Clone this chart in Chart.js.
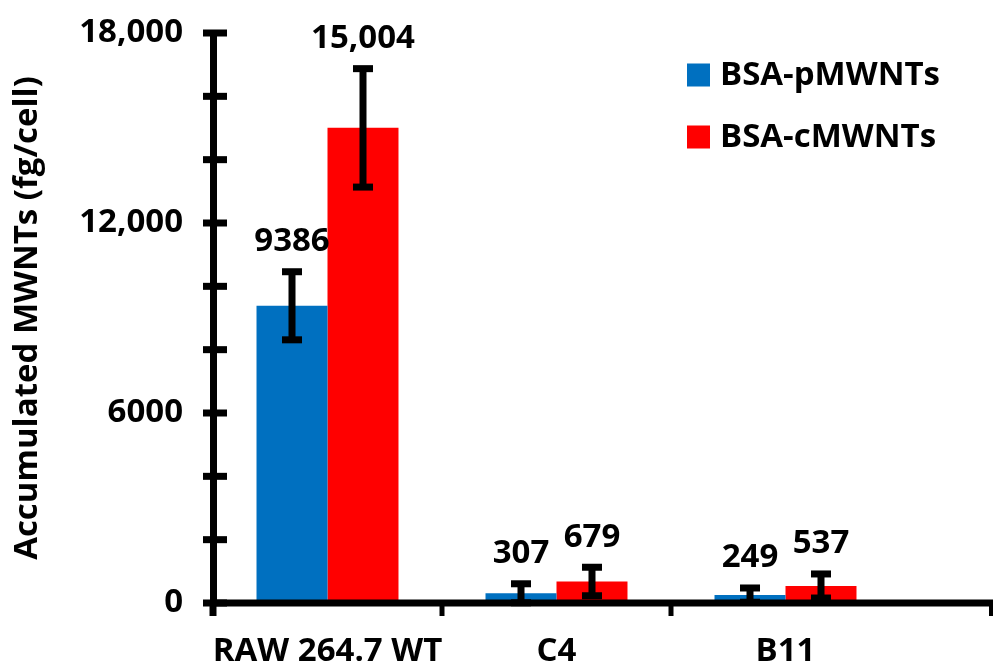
<!DOCTYPE html>
<html>
<head>
<meta charset="utf-8">
<script src="https://cdn.jsdelivr.net/npm/chart.js@4.4.0/dist/chart.umd.min.js"></script>
<style>
  html, body { margin: 0; padding: 0; background: #fff; }
  #wrap { width: 993px; height: 670px; position: relative; }
</style>
</head>
<body>
<div id="wrap"><canvas id="uptakeChart"></canvas></div>
<script>
// ---- Data ----
const categories = ['RAW 264.7 WT', 'C4', 'B11'];
const seriesNames = ['BSA-pMWNTs', 'BSA-cMWNTs'];
const pValues = [9386, 307, 249];
const cValues = [15004, 679, 537];
const pErrors = [1075, 300, 225];
const cErrors = [1870, 450, 380];
const pLabels = ['9386', '307', '249'];
const cLabels = ['15,004', '679', '537'];
const yTickLabels = { 0: '0', 6000: '6000', 12000: '12,000', 18000: '18,000' };

const BLUE = '#0070C0';
const RED = '#FF0000';
const FONT = '"Open Sans"';

// error bars + value labels
const errorBars = {
  id: 'errorBars',
  afterDatasetsDraw(chart) {
    const { ctx } = chart;
    const y = chart.scales.y;
    chart.data.datasets.forEach((ds, i) => {
      chart.getDatasetMeta(i).data.forEach((bar, j) => {
        const v = ds.data[j], e = ds.errors[j];
        const top = y.getPixelForValue(v + e);
        const bot = y.getPixelForValue(Math.max(v - e, 0));
        ctx.save();
        ctx.fillStyle = '#000';
        ctx.fillRect(bar.x - 3.5, top, 7, bot - top);
        ctx.fillRect(bar.x - 10, top - 3.5, 20, 7);
        ctx.fillRect(bar.x - 10, bot - 3.5, 20, 7);
        ctx.font = `bold 33px ${FONT}`;
        ctx.textAlign = 'center';
        ctx.textBaseline = 'middle';
        ctx.fillText(ds.valueLabels[j], bar.x, top - 30);
        ctx.restore();
      });
    });
  }
};

// crossing y ticks, x tick marks, x axis extension, legend
const axisExtras = {
  id: 'axisExtras',
  afterDraw(chart) {
    const { ctx, chartArea } = chart;
    const { x, y } = chart.scales;
    ctx.save();
    ctx.fillStyle = '#000';
    y.ticks.forEach((t, i) => {
      const py = y.getPixelForTick(i);
      ctx.fillRect(chartArea.left - 10, py - 3.5, 24, 7);
    });
    // tick marks under the x axis between groups
    ctx.fillRect(chartArea.left - 3.5, chartArea.bottom, 7, 13);
    for (let i = 0; i < categories.length - 1; i++) {
      const bx = (x.getPixelForValue(i) + x.getPixelForValue(i + 1)) / 2;
      ctx.fillRect(bx - 2.5, chartArea.bottom, 5, 13);
    }
    // x axis runs on to the right edge
    ctx.fillRect(chartArea.left, chartArea.bottom - 3.5, chart.width - chartArea.left, 7);
    ctx.fillRect(chart.width - 4, chartArea.bottom, 4, 13);

    // legend
    const items = [[seriesNames[0], BLUE], [seriesNames[1], RED]];
    ctx.font = `bold 33px ${FONT}`;
    ctx.textAlign = 'left';
    ctx.textBaseline = 'middle';
    items.forEach(([name, col], k) => {
      const cy = 75 + k * 62;
      ctx.fillStyle = col;
      ctx.fillRect(687, cy - 11.5, 23, 23);
      ctx.fillStyle = '#000';
      ctx.fillText(name, 720, cy + 1);
    });
    ctx.restore();
  }
};

const ctx = document.getElementById('uptakeChart');
new Chart(ctx, {
  type: 'bar',
  data: {
    labels: categories,
    datasets: [
      { label: seriesNames[0], data: pValues, errors: pErrors, valueLabels: pLabels,
        backgroundColor: BLUE, categoryPercentage: 0.62, barPercentage: 1.0 },
      { label: seriesNames[1], data: cValues, errors: cErrors, valueLabels: cLabels,
        backgroundColor: RED, categoryPercentage: 0.62, barPercentage: 1.0 }
    ]
  },
  options: {
    responsive: true,
    maintainAspectRatio: false,
    animation: false,
    layout: { padding: { top: 33, right: 93, left: 0, bottom: 0 } },
    plugins: { legend: { display: false }, tooltip: { enabled: false } },
    scales: {
      x: {
        afterFit: s => { s.height = 67; },
        grid: { drawOnChartArea: false, tickLength: 13, color: 'rgba(0,0,0,0)' },
        border: { display: false },
        ticks: {
          color: '#000', padding: 16, maxRotation: 0, minRotation: 0, autoSkip: false,
          font: { family: 'Open Sans', size: 33, weight: 'bold' }
        }
      },
      y: {
        min: 0, max: 18000,
        afterFit: s => { s.width = 213; },
        grid: { drawOnChartArea: false, tickLength: 30, color: 'rgba(0,0,0,0)' },
        border: { color: '#000', width: 7, z: 1 },
        ticks: {
          stepSize: 2000, color: '#000', padding: 0,
          font: { family: 'Open Sans', size: 33, weight: 'bold' },
          callback: v => yTickLabels[v] !== undefined ? yTickLabels[v] : ''
        },
        title: {
          display: true, text: 'Accumulated MWNTs (fg/cell)', color: '#000',
          padding: { top: 8, bottom: 0 },
          font: { family: 'Open Sans', size: 33, weight: 'bold' }
        }
      }
    }
  },
  plugins: [errorBars, axisExtras]
});
</script>
</body>
</html>
